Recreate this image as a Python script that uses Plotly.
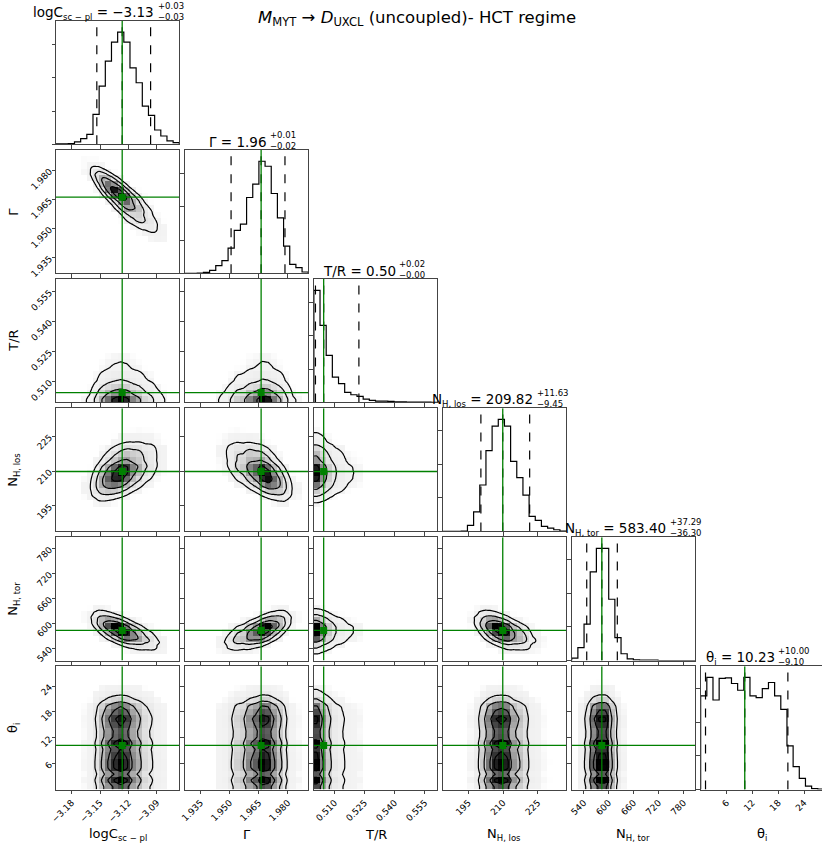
import math
import numpy as np
import plotly.graph_objects as go

W, H = 822, 848


def sub(txt, px):
    return f'<sub><span style="font-size:{px}px">{txt}</span></sub>'


# ---------------- data ----------------
param_names = ["logC", "Γ", "T/R", "N", "N", "θ"]
param_subs = ["sc − pl", "", "", "H, los", "H, tor", "i"]
axis_ranges = [[-3.1966, -3.0664], [1.9269, 1.9905], [0.4996, 0.5612],
               [183.9, 237.2], [511.0, 807.6], [0.0, 28.6]]
truth_values = [-3.1267, 1.9662, 0.5045, 209.82, 583.40, 10.23]
quant_lo = [-3.1535, 1.9507, 0.5004, 200.37, 547.10, 1.13]
quant_hi = [-3.0967, 1.9785, 0.5221, 221.45, 620.69, 20.23]

tick_values = [[-3.18, -3.15, -3.12, -3.09], [1.935, 1.950, 1.965, 1.980],
               [0.510, 0.525, 0.540, 0.555], [195, 210, 225],
               [540, 600, 660, 720, 780], [6, 12, 18, 24]]
tick_texts = [["−3.18", "−3.15", "−3.12", "−3.09"], ["1.935", "1.950", "1.965", "1.980"],
              ["0.510", "0.525", "0.540", "0.555"], ["195", "210", "225"],
              ["540", "600", "660", "720", "780"], ["6", "12", "18", "24"]]

title_values = ["−3.13", "1.96", "0.50", "209.82", "583.40", "10.23"]
title_plus = ["+0.03", "+0.01", "+0.02", "+11.63", "+37.29", "+10.00"]
title_minus = ["−0.03", "−0.02", "−0.00", "−9.45", "−36.30", "−9.10"]

# 1D histogram heights (20 bins spanning each axis range)
hist_logc = [1, 1, 2, 7, 17, 30, 90, 175, 250, 307, 337, 307, 230, 185, 115, 87, 43, 25, 10, 5]
hist_gamma = [0, 0, 1, 3, 9, 23, 38, 76, 129, 148, 228, 268, 337, 322, 240, 167, 82, 27, 17, 4]
hist_tr = [336, 231, 141, 76, 56, 30, 23, 18, 10, 6, 4, 4, 3, 2, 2, 1, 1, 1, 1, 0]
hist_nhlos = [0, 0, 0, 1, 18, 58, 138, 240, 313, 333, 313, 208, 160, 108, 45, 33, 15, 10, 5, 1]
hist_nhtor = [7, 38, 108, 263, 333, 333, 182, 68, 20, 5, 2, 1, 1, 1, 0, 0, 0, 0, 0, 0]
hist_theta = [278, 333, 266, 330, 332, 315, 295, 333, 278, 273, 300, 318, 278, 238, 130, 68, 33, 10, 3, 1]
hists = [hist_logc, hist_gamma, hist_tr, hist_nhlos, hist_nhtor, hist_theta]

pair_corr = {
    (1, 0): -0.85,
    (2, 0): 0.0, (2, 1): 0.0,
    (3, 0): 0.45, (3, 1): -0.55, (3, 2): 0.0,
    (4, 0): -0.65, (4, 1): 0.6, (4, 2): 0.0, (4, 3): -0.5,
    (5, 0): 0.0, (5, 1): 0.0, (5, 2): 0.0, (5, 3): 0.0, (5, 4): 0.0,
}

# ---------------- layout geometry (pixels) ----------------
PS = 123.3
col_left = [56 + 128.93 * j for j in range(6)]
row_top = [21 + 129.05 * i for i in range(6)]
title_split_px = [156, 268.3, 397.7, 535, 668.3, 776.7]

FONT = "DejaVu Sans"
FRAME = "#444444"
GREEN = "#008000"
TITLE_FS = 13.5
LABEL_FS = 13


def label_html(k, sub_px):
    s = param_names[k]
    if param_subs[k]:
        s += sub(param_subs[k], sub_px)
    return s


# ---------------- helpers ----------------
ZG = np.linspace(-6, 6, 2401)
PG = 0.5 * (1 + np.array([math.erf(v / math.sqrt(2)) for v in ZG]))


def ppf(u):
    u = np.clip(u, 1e-3, 1 - 1e-3)
    return np.interp(u, PG, ZG)


def marginal(k):
    c = np.asarray(hists[k], float)
    lo, hi = axis_ranges[k]
    e = np.linspace(lo, hi, len(c) + 1)
    w = e[1] - e[0]
    ctr = 0.5 * (e[:-1] + e[1:])
    pdf = c / (c.sum() * w)
    cdf = np.concatenate([[0.0], np.cumsum(c) / c.sum()])
    return e, ctr, pdf, cdf


MARG = [marginal(k) for k in range(6)]


def eval_marg(k, x):
    e, ctr, pdf, cdf = MARG[k]
    f = np.interp(x, ctr, pdf)
    u = np.interp(x, e, cdf)
    return f, ppf(u)


def joint(kx, ky, xs, ys, rho):
    fx, zx = eval_marg(kx, xs)
    fy, zy = eval_marg(ky, ys)
    ZX, ZY = np.meshgrid(zx, zy)
    cop = np.exp(-(rho ** 2 * (ZX ** 2 + ZY ** 2) - 2 * rho * ZX * ZY) / (2 * (1 - rho ** 2))) / np.sqrt(1 - rho ** 2)
    return np.outer(fy, fx) * cop


def level_values(D, masses):
    flat = np.sort(D.ravel())[::-1]
    cs = np.cumsum(flat)
    cs /= cs[-1]
    out = []
    for m in masses:
        idx = min(np.searchsorted(cs, m), len(flat) - 1)
        out.append(flat[idx])
    return out


LEVEL_MASS = [1 - math.exp(-0.5 * s ** 2) for s in (2.0, 1.5, 1.0, 0.5)]  # outer -> inner
DENSITY_SCALE = [[0, "#ffffff"], [0.0008, "#ffffff"], [0.003, "#f3f3f3"], [1, "#000000"]]

fig = go.Figure()
layout = dict(
    width=W, height=H, margin=dict(l=0, r=0, t=0, b=0, autoexpand=False),
    paper_bgcolor="white", plot_bgcolor="white", showlegend=False,
    font=dict(family=FONT, color="black"),
)
annotations = []

n = 0
for i in range(6):
    for j in range(i + 1):
        n += 1
        xa = "xaxis" if n == 1 else f"xaxis{n}"
        ya = "yaxis" if n == 1 else f"yaxis{n}"
        xr = "x" if n == 1 else f"x{n}"
        yr = "y" if n == 1 else f"y{n}"

        x0 = col_left[j]
        x1 = min(x0 + PS, W)
        xrange = list(axis_ranges[j])
        if x0 + PS > W:
            xrange[1] = xrange[0] + (xrange[1] - xrange[0]) * (W - x0) / PS
        y0 = row_top[i]
        y1 = y0 + PS

        common = dict(showline=True, mirror=True, linecolor=FRAME, linewidth=1,
                      ticks="outside", ticklen=3.5, tickwidth=1, tickcolor=FRAME,
                      showgrid=False, zeroline=False, fixedrange=True, automargin=False,
                      tickfont=dict(size=9, family=FONT, color="black"))
        layout[xa] = dict(common, domain=[x0 / W, x1 / W], range=xrange, anchor=yr,
                          tickmode="array", tickvals=tick_values[j], ticktext=tick_texts[j],
                          showticklabels=(i == 5), tickangle=-45)

        if i == j:
            counts = hists[i]
            ymax = 1.1 * max(counts)
            layout[ya] = dict(common, domain=[1 - y1 / H, 1 - y0 / H], range=[0, ymax],
                              anchor=xr, showticklabels=False, nticks=6)
            e = np.linspace(axis_ranges[i][0], axis_ranges[i][1], len(counts) + 1)
            xs = [e[0]] + list(e) + [e[-1]]
            ys = [0] + list(counts) + [counts[-1], 0]
            fig.add_trace(go.Scatter(x=xs, y=ys, mode="lines", line=dict(color="black", width=1.2, shape="hv"),
                                     xaxis=xr, yaxis=yr, hoverinfo="skip"))
            for q in (quant_lo[i], truth_values[i], quant_hi[i]):
                fig.add_trace(go.Scatter(x=[q, q], y=[0, ymax], mode="lines",
                                         line=dict(color="black", width=1.2, dash="dash"),
                                         xaxis=xr, yaxis=yr, hoverinfo="skip"))
            fig.add_trace(go.Scatter(x=[truth_values[i]] * 2, y=[0, ymax], mode="lines",
                                     line=dict(color=GREEN, width=1.3), xaxis=xr, yaxis=yr, hoverinfo="skip"))
            # panel title: main text + stacked super/subscript
            annotations.append(dict(x=title_split_px[i] / W, y=1 - (y0 - 8.5) / H, xref="paper", yref="paper",
                                    xanchor="right", yanchor="middle", showarrow=False,
                                    text=label_html(i, 8.5) + " = " + title_values[i],
                                    font=dict(size=TITLE_FS, family=FONT)))
            annotations.append(dict(x=(title_split_px[i] + 0.5) / W, y=1 - (y0 - 9.5) / H, xref="paper",
                                    yref="paper", xanchor="left", yanchor="middle", showarrow=False,
                                    align="left", borderpad=0,
                                    text=title_plus[i] + "<br>" + title_minus[i], font=dict(size=8.5, family=FONT)))
        else:
            layout[ya] = dict(common, domain=[1 - y1 / H, 1 - y0 / H], range=axis_ranges[i], anchor=xr,
                              tickmode="array", tickvals=tick_values[i], ticktext=tick_texts[i],
                              showticklabels=(j == 0), tickangle=-45)
            rho = pair_corr[(i, j)]
            # binned density image
            ex = np.linspace(axis_ranges[j][0], axis_ranges[j][1], 21)
            ey = np.linspace(axis_ranges[i][0], axis_ranges[i][1], 21)
            cx = 0.5 * (ex[:-1] + ex[1:])
            cy = 0.5 * (ey[:-1] + ey[1:])
            Db = joint(j, i, cx, cy, rho)
            zimg = (Db / Db.max()) ** 2
            fig.add_trace(go.Heatmap(x=cx, y=cy, z=zimg, zmin=0, zmax=1,
                                     colorscale=DENSITY_SCALE, showscale=False,
                                     xaxis=xr, yaxis=yr, hoverinfo="skip"))
            # contours on a finer grid
            fx = np.linspace(axis_ranges[j][0], axis_ranges[j][1], 90)
            fy = np.linspace(axis_ranges[i][0], axis_ranges[i][1], 90)
            Df = joint(j, i, fx, fy, rho)
            V = level_values(Df, LEVEL_MASS)
            xp = [0.0] + V + [Df.max() * 1.0001]
            for k in range(1, len(xp)):
                if xp[k] <= xp[k - 1]:
                    xp[k] = xp[k - 1] * 1.0001 + 1e-12
            Zt = np.interp(Df, xp, [0, 1, 2, 3, 4, 5])
            fig.add_trace(go.Contour(x=fx, y=fy, z=Zt, contours=dict(start=1, end=4, size=1, coloring="lines"),
                                     colorscale=[[0, "black"], [1, "black"]], line=dict(width=1.2),
                                     showscale=False, xaxis=xr, yaxis=yr, hoverinfo="skip"))
            # truth lines + marker
            fig.add_trace(go.Scatter(x=[truth_values[j]] * 2, y=axis_ranges[i], mode="lines",
                                     line=dict(color=GREEN, width=1.3), xaxis=xr, yaxis=yr, hoverinfo="skip"))
            fig.add_trace(go.Scatter(x=xrange, y=[truth_values[i]] * 2, mode="lines",
                                     line=dict(color=GREEN, width=1.3), xaxis=xr, yaxis=yr, hoverinfo="skip"))
            fig.add_trace(go.Scatter(x=[truth_values[j]], y=[truth_values[i]], mode="markers",
                                     marker=dict(symbol="square", size=7, color=GREEN),
                                     xaxis=xr, yaxis=yr, hoverinfo="skip"))

# axis labels
for j in range(6):
    cxp = col_left[j] + PS / 2
    annotations.append(dict(x=cxp / W, y=1 - 834 / H, xref="paper", yref="paper", xanchor="center",
                            yanchor="middle", showarrow=False, text=label_html(j, 8.5),
                            font=dict(size=LABEL_FS, family=FONT)))
for i in range(1, 6):
    cyp = row_top[i] + PS / 2
    annotations.append(dict(x=14 / W, y=1 - cyp / H, xref="paper", yref="paper", xanchor="center",
                            yanchor="middle", showarrow=False, text=label_html(i, 8.5), textangle=-90,
                            font=dict(size=LABEL_FS, family=FONT)))

# figure title
annotations.append(dict(x=416.7 / W, y=1 - 18 / H, xref="paper", yref="paper", xanchor="center",
                        yanchor="middle", showarrow=False,
                        text="<i>M</i><sub>MYT</sub> → <i>D</i><sub>UXCL</sub> (uncoupled)- HCT regime",
                        font=dict(size=16.5, family=FONT)))

layout["annotations"] = annotations
fig.update_layout(**layout)
fig.write_html("out.html", config={"displayModeBar": False},
               post_script="document.body.style.margin='0';document.body.style.overflow='hidden';")
